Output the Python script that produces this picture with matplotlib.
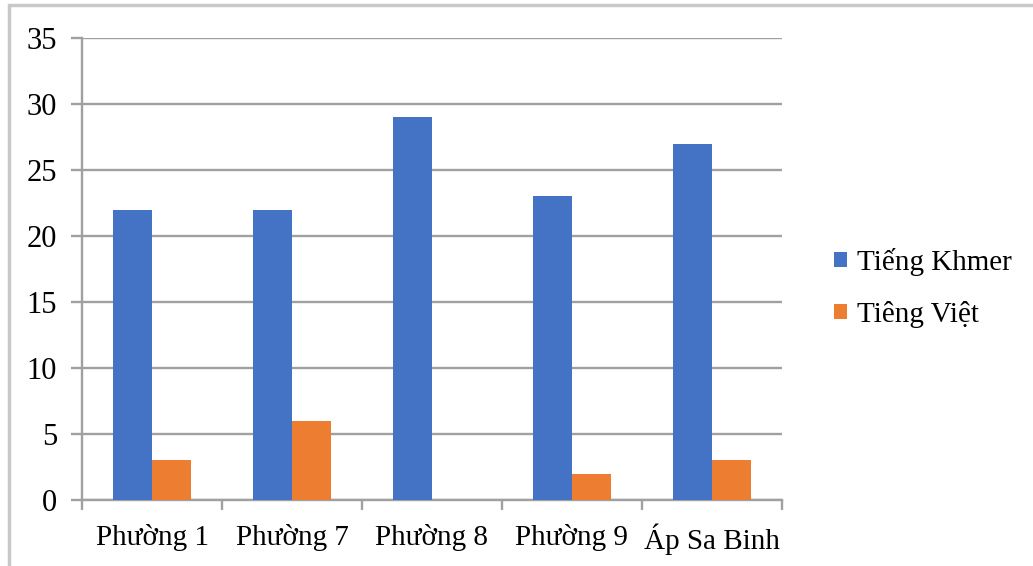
import matplotlib
matplotlib.use("Agg")
import matplotlib.pyplot as plt
import numpy as np
from matplotlib.patches import Rectangle

categories = ["Phường 1", "Phường 7", "Phường 8", "Phường 9", "Áp Sa Binh"]
khmer = [22, 22, 29, 23, 27]
viet = [3, 6, 0, 2, 3]
series_names = ["Tiếng Khmer", "Tiêng Việt"]
yticks = [0, 5, 10, 15, 20, 25, 30, 35]

BLUE = "#4472C4"
ORANGE = "#ED7D31"
GRID = "#A0A0A0"

plt.rcParams["font.family"] = ["Liberation Serif", "DejaVu Serif"]

fig = plt.figure(figsize=(10.33, 5.66), dpi=100)
W, H = 1033, 566

# outer chart frame
fig.patches.append(Rectangle((9 / W, -0.1), 1.2, (566 - 5) / H + 0.1,
                             transform=fig.transFigure, fill=False,
                             edgecolor="#C8C8C8", linewidth=2.5))

ax = fig.add_axes([82 / W, (566 - 500) / H, 700 / W, 462 / H])

x = np.arange(len(categories))
bw = 0.28
ax.bar(x - bw / 2, khmer, width=bw, color=BLUE, label=series_names[0], zorder=3)
ax.bar(x + bw / 2, viet, width=bw, color=ORANGE, label=series_names[1], zorder=3)

ax.set_xlim(-0.5, len(categories) - 0.5)
ax.set_ylim(0, 35)
ax.set_yticks(yticks)
ax.set_yticklabels([str(t) for t in yticks], fontsize=22)
ax.yaxis.grid(True, color=GRID, linewidth=1.7, zorder=0)
ax.set_axisbelow(True)

ax.set_xticks(x)
ax.set_xticklabels(categories, fontsize=21)
ax.tick_params(axis="x", length=0, pad=17)
ax.set_xticks(np.arange(-0.5, len(categories), 1.0), minor=True)
ax.tick_params(axis="x", which="minor", length=7, width=1.7, color=GRID)
ax.tick_params(axis="y", length=8, width=1.7, color=GRID, pad=10)

for s in ["top", "right"]:
    ax.spines[s].set_visible(False)
for s in ["left", "bottom"]:
    ax.spines[s].set_color(GRID)
    ax.spines[s].set_linewidth(1.7)

fig.legend(loc="center left", bbox_to_anchor=(808 / W, 1 - 288 / H),
           frameon=False, fontsize=21, handlelength=0.42, handleheight=0.42,
           handletextpad=0.35, labelspacing=0.85)

fig.savefig("out.png", dpi=100)
